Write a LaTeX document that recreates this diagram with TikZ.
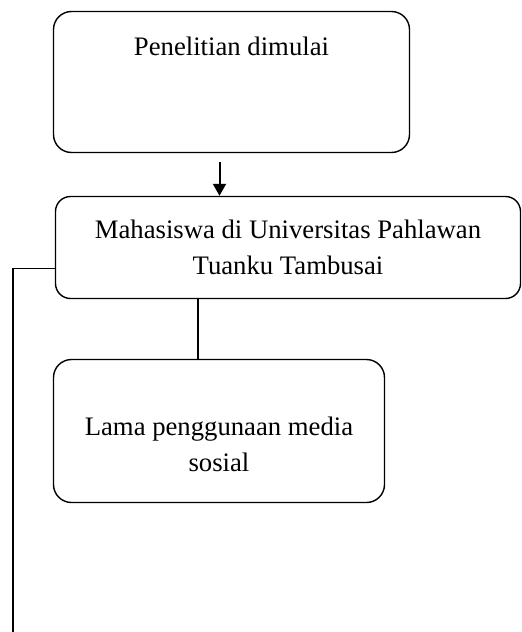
\documentclass[tikz,border=0pt]{standalone}
\usepackage{fontspec}
\setmainfont{Liberation Serif}
\usepackage{tikz}
\usetikzlibrary{positioning, arrows.meta, calc}

\begin{document}
\begin{tikzpicture}[x=1pt,y=-1pt,line width=1.4pt,
    every node/.style={draw,rounded corners=18pt,align=center,
      font=\fontsize{26.7}{36}\selectfont,inner sep=0pt}]
                  \useasboundingbox (0,0) rectangle (522,632);
                  \node[minimum width=356pt,minimum height=141pt] (p) at (231.5,82) {Penelitian dimulai\\~\\~};
                  \node[minimum width=465pt,minimum height=102pt,rounded corners=15pt] (m) at (288,247.5) {Mahasiswa di Universitas Pahlawan\\Tuanku Tambusai};
                  \node[minimum width=331pt,minimum height=143pt] (l) at (219,431) {~\\[10pt]Lama penggunaan media\\sosial};
                  \coordinate (bawah) at (13,634);
                  \coordinate (mulai) at (219.5,162);
                  \draw[line width=2pt,-{Triangle[length=12pt,width=13pt]}] (mulai) -- (mulai |- m.north);
                  \draw ([xshift=-90pt]m.south) -- ([xshift=-90pt]m.south |- l.north);
                  \draw ([yshift=-21pt]m.west) -| (bawah);
              \end{tikzpicture}
\end{document}
